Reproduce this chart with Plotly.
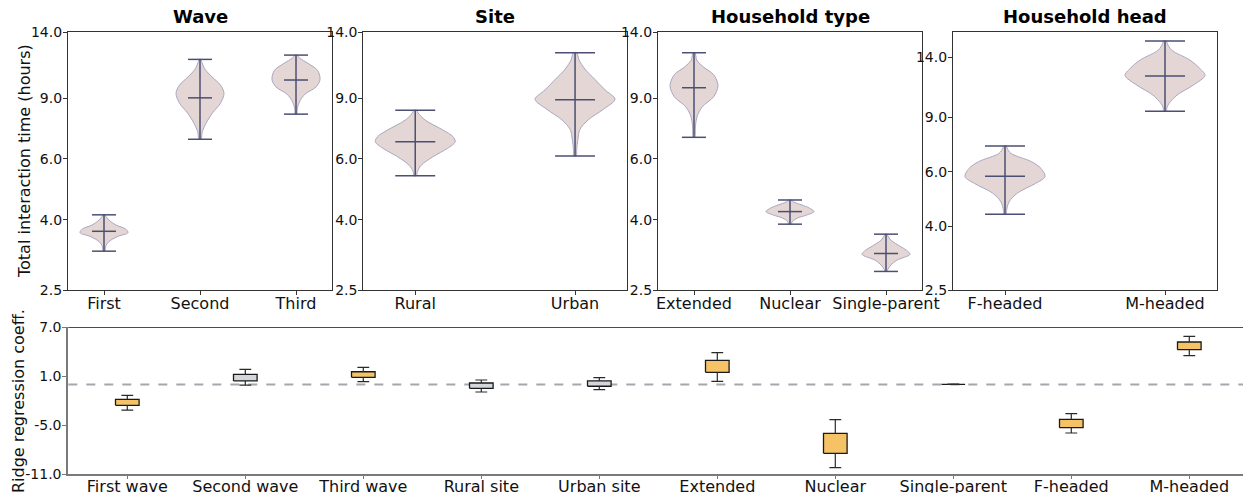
import math
import plotly.graph_objects as go

FONT = "DejaVu Sans"
W, H = 1243, 493

# ---------------- top panels: violin summaries (hours) ----------------
wave_cats = ["First", "Second", "Third"]
wave_min = [3.24, 6.84, 8.09]
wave_med = [3.70, 9.02, 10.16]
wave_max = [4.13, 11.66, 12.0]
wave_prof_t = [
    [0, 0.15, 0.26, 0.40, 0.51, 0.61, 0.72, 0.86, 0.98, 1.0],
    [0, 0.10, 0.20, 0.33, 0.45, 0.575, 0.68, 0.78, 0.88, 0.96, 1.0],
    [0, 0.11, 0.23, 0.34, 0.46, 0.58, 0.74, 0.86, 0.95, 1.0],
]
wave_prof_w = [
    [0.03, 0.08, 0.2, 0.55, 1.0, 0.9, 0.5, 0.2, 0.06, 0.05],
    [0.04, 0.1, 0.25, 0.52, 0.85, 1.0, 0.85, 0.5, 0.2, 0.08, 0.04],
    [0.03, 0.06, 0.17, 0.38, 0.83, 1.0, 0.9, 0.5, 0.15, 0.05],
]

site_cats = ["Rural", "Urban"]
site_min = [5.36, 6.12]
site_med = [6.73, 8.90]
site_max = [8.30, 12.19]
site_prof_t = [
    [0, 0.06, 0.16, 0.29, 0.42, 0.52, 0.60, 0.70, 0.85, 0.96, 1.0],
    [0, 0.06, 0.16, 0.255, 0.35, 0.45, 0.55, 0.64, 0.74, 0.84, 0.93, 1.0],
]
site_prof_w = [
    [0.03, 0.05, 0.15, 0.44, 0.81, 1.0, 0.94, 0.69, 0.25, 0.07, 0.04],
    [0.03, 0.04, 0.07, 0.12, 0.33, 0.7, 1.0, 0.75, 0.5, 0.25, 0.1, 0.04],
]

htype_cats = ["Extended", "Nuclear", "Single-parent"]
htype_min = [6.93, 3.88, 2.83]
htype_med = [9.65, 4.22, 3.19]
htype_max = [12.19, 4.56, 3.63]
htype_prof_t = [
    [0, 0.125, 0.24, 0.36, 0.48, 0.61, 0.74, 0.83, 0.91, 1.0],
    [0, 0.11, 0.25, 0.38, 0.52, 0.67, 0.79, 0.92, 1.0],
    [0, 0.05, 0.17, 0.30, 0.46, 0.57, 0.66, 0.84, 0.95, 1.0],
]
htype_prof_w = [
    [0.03, 0.06, 0.12, 0.34, 0.82, 1.0, 0.82, 0.4, 0.12, 0.04],
    [0.05, 0.1, 0.3, 0.7, 1.0, 0.8, 0.5, 0.15, 0.05],
    [0.04, 0.07, 0.2, 0.45, 1.0, 0.85, 0.62, 0.2, 0.08, 0.04],
]

hhead_cats = ["F-headed", "M-headed"]
hhead_min = [4.38, 9.40]
hhead_med = [5.81, 12.2]
hhead_max = [7.27, 15.8]
hhead_prof_t = [
    [0, 0.06, 0.18, 0.31, 0.45, 0.55, 0.67, 0.77, 0.89, 0.97, 1.0],
    [0, 0.06, 0.11, 0.23, 0.37, 0.51, 0.61, 0.73, 0.87, 0.96, 1.0],
]
hhead_prof_w = [
    [0.03, 0.04, 0.1, 0.31, 0.76, 1.0, 0.9, 0.66, 0.15, 0.05, 0.04],
    [0.03, 0.05, 0.1, 0.3, 0.7, 1.0, 0.87, 0.62, 0.17, 0.06, 0.04],
]

hour_ticks = [2.5, 4.0, 6.0, 9.0, 14.0]
hour_ticktext = ["2.5", "4.0", "6.0", "9.0", "14.0"]

# ---------------- bottom panel: ridge coefficients ----------------
coef_cats = ["First wave", "Second wave", "Third wave", "Rural site", "Urban site",
             "Extended", "Nuclear", "Single-parent", "F-headed", "M-headed"]
coef_wlo = [-3.13, -0.07, 0.34, -0.92, -0.64, 0.39, -10.19, 0.0, -5.94, 3.52]
coef_q1 = [-2.55, 0.43, 0.88, -0.47, -0.22, 1.49, -8.43, 0.0, -5.29, 4.26]
coef_q3 = [-1.82, 1.24, 1.56, 0.18, 0.43, 2.96, -5.98, 0.0, -4.27, 5.20]
coef_whi = [-1.33, 1.86, 2.10, 0.55, 0.83, 3.89, -4.31, 0.0, -3.58, 5.90]
coef_sig = [True, False, True, False, False, True, True, True, True, True]
coef_ticks = [-11.0, -5.0, 1.0, 7.0]
coef_ticktext = ["-11.0", "-5.0", "1.0", "7.0"]

# ---------------- styles ----------------
VIOLIN_FILL = "#e3d6d4"
VIOLIN_EDGE = "#aaa6c0"
VIOLIN_LINE = "#4b4f73"
ORANGE = "#f5c366"
GREY = "#d3d6da"
SPINE = "#333333"

panels = [
    dict(title="Wave", cats=wave_cats, vmin=wave_min, vmed=wave_med, vmax=wave_max,
         pt=wave_prof_t, pw=wave_prof_w, xpx=(68, 332), xr=(0.625, 3.375), ytop=14.0),
    dict(title="Site", cats=site_cats, vmin=site_min, vmed=site_med, vmax=site_max,
         pt=site_prof_t, pw=site_prof_w, xpx=(363.3, 627), xr=(0.675, 2.325), ytop=14.0),
    dict(title="Household type", cats=htype_cats, vmin=htype_min, vmed=htype_med, vmax=htype_max,
         pt=htype_prof_t, pw=htype_prof_w, xpx=(658, 922), xr=(0.625, 3.375), ytop=14.0),
    dict(title="Household head", cats=hhead_cats, vmin=hhead_min, vmed=hhead_med, vmax=hhead_max,
         pt=hhead_prof_t, pw=hhead_prof_w, xpx=(953, 1217), xr=(0.675, 2.325), ytop=16.9),
]

TOP_Y = (1 - 290 / H, 1 - 32 / H)
BOT_Y = (1 - 474.3 / H, 1 - 327.3 / H)

fig = go.Figure()
layout = dict(
    width=W, height=H, autosize=False,
    margin=dict(l=0, r=0, t=0, b=0, pad=0, autoexpand=False),
    paper_bgcolor="white", plot_bgcolor="white",
    showlegend=False,
    font=dict(family=FONT, color="#111111"),
)
annotations = []
shapes = []

HALF = 0.25
CAP = 0.125
for k, p in enumerate(panels, start=1):
    xa = "x" if k == 1 else f"x{k}"
    ya = "y" if k == 1 else f"y{k}"
    for i, cat in enumerate(p["cats"]):
        pos = i + 1
        lo, hi, med = p["vmin"][i], p["vmax"][i], p["vmed"][i]
        ts, ws = p["pt"][i], p["pw"][i]
        ys = [lo * (hi / lo) ** t for t in ts]
        xs_r = [pos + HALF * w for w in ws]
        xs_l = [pos - HALF * w for w in ws]
        vx = xs_r + xs_l[::-1]
        vy = ys + ys[::-1]
        vx.append(vx[0]); vy.append(vy[0])
        fig.add_trace(go.Scatter(
            x=vx, y=vy, mode="lines", fill="toself", fillcolor=VIOLIN_FILL,
            line=dict(color=VIOLIN_EDGE, width=1, shape="spline", smoothing=0.9),
            xaxis=xa, yaxis=ya, hoverinfo="skip"))
        lx = [pos, pos, None, pos - CAP, pos + CAP, None, pos - CAP, pos + CAP, None, pos - CAP, pos + CAP]
        ly = [lo, hi, None, lo, lo, None, hi, hi, None, med, med]
        fig.add_trace(go.Scatter(
            x=lx, y=ly, mode="lines", line=dict(color=VIOLIN_LINE, width=1.5),
            xaxis=xa, yaxis=ya, hoverinfo="skip"))

    xkey = "xaxis" if k == 1 else f"xaxis{k}"
    ykey = "yaxis" if k == 1 else f"yaxis{k}"
    layout[xkey] = dict(
        domain=[p["xpx"][0] / W, p["xpx"][1] / W], range=list(p["xr"]), anchor=ya,
        automargin=False,
        tickmode="array", tickvals=list(range(1, len(p["cats"]) + 1)), ticktext=p["cats"],
        showline=True, mirror=True, linecolor=SPINE, linewidth=1.2,
        ticks="outside", ticklen=4, tickcolor=SPINE, tickwidth=1, ticklabelstandoff=-5,
        showgrid=False, zeroline=False, tickfont=dict(size=16, family=FONT, color="#111"))
    layout[ykey] = dict(
        domain=list(TOP_Y), type="log", automargin=False,
        range=[math.log10(2.5), math.log10(p["ytop"])], anchor=xa,
        tickmode="array", tickvals=hour_ticks, ticktext=hour_ticktext,
        showline=True, mirror=True, linecolor=SPINE, linewidth=1.2,
        ticks="outside", ticklen=4, tickcolor=SPINE, tickwidth=1, ticklabelstandoff=-2,
        showgrid=False, zeroline=False, tickfont=dict(size=14, family=FONT, color="#111"))
    cx = (p["xpx"][0] + p["xpx"][1]) / 2 / W
    annotations.append(dict(
        text=f"<b>{p['title']}</b>", x=cx, y=1 - 16 / H, xref="paper", yref="paper",
        xanchor="center", yanchor="middle", showarrow=False,
        font=dict(size=18, family=FONT, color="#000")))

# bottom panel
BW = 0.1
CW = 0.05
for sig, color in [(True, ORANGE), (False, GREY)]:
    bx, by = [], []
    for i in range(len(coef_cats)):
        if coef_sig[i] != sig:
            continue
        pos = i + 1
        bx += [pos - BW, pos + BW, pos + BW, pos - BW, pos - BW, None]
        by += [coef_q1[i], coef_q1[i], coef_q3[i], coef_q3[i], coef_q1[i], None]
    fig.add_trace(go.Scatter(
        x=bx, y=by, mode="lines", fill="toself", fillcolor=color,
        line=dict(color="#1a1a1a", width=1.3), xaxis="x5", yaxis="y5", hoverinfo="skip"))
wx, wy = [], []
for i in range(len(coef_cats)):
    pos = i + 1
    wx += [pos, pos, None, pos, pos, None,
           pos - CW, pos + CW, None, pos - CW, pos + CW, None]
    wy += [coef_q3[i], coef_whi[i], None, coef_q1[i], coef_wlo[i], None,
           coef_whi[i], coef_whi[i], None, coef_wlo[i], coef_wlo[i], None]
fig.add_trace(go.Scatter(
    x=wx, y=wy, mode="lines", line=dict(color="#2a2a2a", width=1.2),
    xaxis="x5", yaxis="y5", hoverinfo="skip"))

layout["xaxis5"] = dict(
    domain=[68.3 / W, 1.0], range=[0.5, 0.5 + (W - 68.3) / 118.0], anchor="y5",
    automargin=False,
    tickmode="array", tickvals=list(range(1, len(coef_cats) + 1)), ticktext=coef_cats,
    showline=True, linecolor="#7a7a7a", linewidth=2,
    ticks="outside", ticklen=3, tickcolor="#7a7a7a", tickwidth=1, ticklabelstandoff=-7,
    showgrid=False, zeroline=False, tickfont=dict(size=16, family=FONT, color="#111"))
layout["yaxis5"] = dict(
    domain=list(BOT_Y), range=[-11, 7], anchor="x5", automargin=False,
    tickmode="array", tickvals=coef_ticks, ticktext=coef_ticktext,
    showline=True, linecolor="#7a7a7a", linewidth=2,
    ticks="outside", ticklen=4, tickcolor="#7a7a7a", tickwidth=1, ticklabelstandoff=-2,
    showgrid=False, zeroline=False, tickfont=dict(size=14, family=FONT, color="#111"))

shapes.append(dict(type="line", xref="x5 domain", yref="y5", x0=0, x1=1, y0=0, y1=0,
                   line=dict(color="#a6a6ae", width=2, dash="dash"), layer="below"))
shapes.append(dict(type="line", xref="x5 domain", yref="y5", x0=0, x1=1, y0=7, y1=7,
                   line=dict(color="#111111", width=1.3), layer="above"))

annotations.append(dict(
    text="Total interaction time (hours)", x=24 / W, y=1 - 161 / H, xref="paper", yref="paper",
    xanchor="center", yanchor="middle", textangle=-90, showarrow=False,
    font=dict(size=16, family=FONT, color="#111")))
annotations.append(dict(
    text="Ridge regression coeff.", x=18 / W, y=1 - 401 / H, xref="paper", yref="paper",
    xanchor="center", yanchor="middle", textangle=-90, showarrow=False,
    font=dict(size=16, family=FONT, color="#111")))

layout["annotations"] = annotations
layout["shapes"] = shapes
fig.update_layout(**layout)

fig.write_html(
    "out.html",
    config={"displayModeBar": False},
    post_script="document.documentElement.style.margin='0';document.body.style.margin='0';"
                "document.body.style.padding='0';document.body.style.overflow='hidden';",
)
